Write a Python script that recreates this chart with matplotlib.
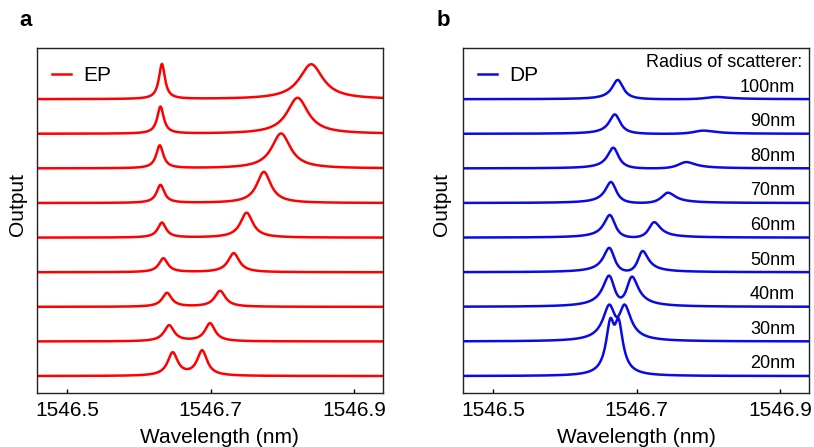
import numpy as np
import matplotlib
matplotlib.use("Agg")
import matplotlib.pyplot as plt

plt.rcParams['font.family'] = ['Liberation Sans', 'DejaVu Sans']

# panel a (EP): two Lorentzian modes per trace, listed bottom -> top
ep_c1 = [1546.647, 1546.642, 1546.639, 1546.634, 1546.632, 1546.630, 1546.629, 1546.630, 1546.632]
ep_c2 = [1546.688, 1546.699, 1546.713, 1546.732, 1546.750, 1546.774, 1546.798, 1546.821, 1546.840]
ep_h1 = [0.66, 0.46, 0.40, 0.40, 0.43, 0.52, 0.66, 0.78, 1.01]
ep_h2 = [0.72, 0.52, 0.46, 0.55, 0.72, 0.90, 1.01, 1.04, 1.01]
ep_w1 = [0.0085, 0.0085, 0.008, 0.0075, 0.007, 0.0065, 0.006, 0.0055, 0.0051]
ep_w2 = [0.0085, 0.0085, 0.009, 0.0095, 0.0105, 0.012, 0.016, 0.018, 0.020]

# panel b (DP): coherent sum of two modes, field amplitudes, bottom -> top
radii = ['20nm', '30nm', '40nm', '50nm', '60nm', '70nm', '80nm', '90nm', '100nm']
dp_c1 = [1546.664, 1546.663, 1546.663, 1546.663, 1546.6635, 1546.665, 1546.668, 1546.670, 1546.674]
dp_c2 = [1546.674, 1546.682, 1546.692, 1546.707, 1546.723, 1546.742, 1546.767, 1546.790, 1546.808]
dp_a1 = [0.92, 0.80, 0.82, 0.79, 0.78, 0.76, 0.76, 0.74, 0.74]
dp_a2 = [0.92, 0.80, 0.80, 0.72, 0.63, 0.52, 0.41, 0.29, 0.24]
dp_w1 = [0.007, 0.010, 0.010, 0.0095, 0.0095, 0.0095, 0.0095, 0.0095, 0.0095]
dp_w2 = [0.007, 0.010, 0.010, 0.009, 0.010, 0.012, 0.015, 0.018, 0.020]

wl = np.linspace(1546.44, 1546.96, 2000)


def lorentz(x, c, w):
    return 1.0 / (1.0 + ((x - c) / w) ** 2)


def field(x, c, w):
    return w / (w - 1j * (x - c))


fig = plt.figure(figsize=(8.14, 4.47), dpi=100)
ax_a = fig.add_axes([0.0455, 0.1208, 0.425, 0.7718])
ax_b = fig.add_axes([0.5688, 0.1208, 0.425, 0.7718])

for i in range(len(ep_c1)):
    y = ep_h1[i] * lorentz(wl, ep_c1[i], ep_w1[i]) + ep_h2[i] * lorentz(wl, ep_c2[i], ep_w2[i])
    ax_a.plot(wl, y + i, color='#ff0000', lw=1.8, label='EP' if i == 0 else None)

for i in range(len(dp_c1)):
    e = dp_a1[i] * field(wl, dp_c1[i], dp_w1[i]) + dp_a2[i] * field(wl, dp_c2[i], dp_w2[i])
    ax_b.plot(wl, np.abs(e) ** 2 + i, color='#0a0ae6', lw=1.8, label='DP' if i == 0 else None)
    ax_b.text(0.96, i + 0.35, radii[i], transform=ax_b.get_yaxis_transform(),
              ha='right', va='center', fontsize=13)

ax_b.text(0.979, 0.957, 'Radius of scatterer:', transform=ax_b.transAxes,
          ha='right', va='center', fontsize=13)

for ax, lab, lx in [(ax_a, 'a', 0.024), (ax_b, 'b', 0.536)]:
    ax.set_xlim(1546.458, 1546.94)
    ax.set_ylim(-0.49, 9.48)
    ax.set_xticks([1546.5, 1546.7, 1546.9])
    ax.set_xticklabels(['1546.5', '1546.7', '1546.9'])
    ax.set_yticks([])
    ax.tick_params(axis='x', direction='in', length=3, width=1, labelsize=15, pad=6)
    for s in ax.spines.values():
        s.set_linewidth(1)
        s.set_color('#222222')
    ax.set_xlabel('Wavelength (nm)', fontsize=15)
    ax.set_ylabel('Output', fontsize=15)
    ax.legend(loc='center left', bbox_to_anchor=(0.043, 0.919), frameon=False,
              borderpad=0, borderaxespad=0, handlelength=0.9, handletextpad=0.6,
              fontsize=15)
    fig.text(lx, 0.942, lab, fontsize=16, fontweight='bold', va='baseline')

ax_a.xaxis.set_label_coords(0.526, -0.1)
ax_b.xaxis.set_label_coords(0.5, -0.1)
ax_a.yaxis.set_label_coords(-0.03, 0.545)
ax_b.yaxis.set_label_coords(-0.034, 0.545)

fig.savefig('out.png', dpi=100)
